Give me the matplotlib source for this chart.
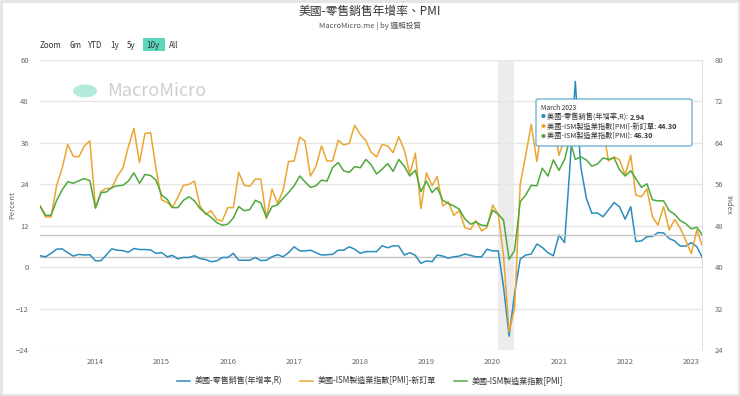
import pandas as pd
import matplotlib.pyplot as plt
from matplotlib.patches import Rectangle, Circle, FancyBboxPatch

plt.rcParams['font.family'] = ['Noto Sans CJK TC', 'DejaVu Sans']

# monthly, Mar 2013 - Mar 2023
months = pd.date_range('2013-03-01', periods=121, freq='MS')

retail_yoy = [
    3.3, 3.0, 4.0, 5.2, 5.3, 4.2, 3.2, 3.7, 3.5, 3.6,
    1.8, 1.9, 3.5, 5.3, 4.9, 4.8, 4.3, 5.4, 5.1, 5.1, 5.0, 4.0,
    4.2, 3.0, 3.4, 2.4, 2.8, 2.8, 3.3, 2.5, 2.2, 1.6, 1.8, 2.8,
    2.8, 4.0, 2.0, 2.0, 2.0, 2.8, 1.9, 2.0, 3.0, 3.6, 3.0, 4.2,
    5.9, 4.7, 4.7, 4.9, 4.2, 3.5, 3.6, 3.7, 4.9, 4.9, 5.9, 5.2,
    4.0, 4.5, 4.5, 4.5, 6.2, 5.6, 6.2, 6.1, 3.5, 4.2, 3.4, 1.1,
    1.8, 1.6, 3.5, 3.2, 2.6, 3.0, 3.2, 3.8, 3.4, 3.0, 3.0, 5.2,
    4.7, 4.7, -5.7, -20.0, -7.7, 2.3, 3.5, 3.8, 6.7, 5.7, 4.2, 3.3,
    9.3, 7.1, 28.0, 53.8, 29.1, 20.0, 15.6, 15.7, 14.6, 16.6, 18.7, 17.5,
    13.9, 17.5, 7.4, 7.6, 8.8, 8.9, 10.0, 9.9, 8.3, 7.6, 6.1, 6.1,
    7.1, 5.9, 2.94,
]

new_orders = [
    51.8, 49.7, 49.7, 55.8, 59.1, 63.7, 61.4, 61.3, 63.4, 64.4,
    51.4, 54.6, 55.2, 55.2, 57.5, 59.1, 63.2, 66.8, 60.2, 65.8, 66.0, 59.0,
    53.0, 52.5, 51.5, 53.5, 55.8, 56.0, 56.6, 51.8, 50.2, 50.9, 49.2, 48.9,
    51.5, 51.5, 58.3, 55.8, 55.6, 57.0, 57.0, 49.4, 55.1, 52.3, 54.8, 60.4,
    60.5, 65.1, 64.4, 57.6, 59.4, 63.4, 60.5, 60.5, 64.5, 63.6, 63.9, 67.4,
    65.6, 64.4, 62.2, 61.3, 63.7, 63.4, 62.1, 65.2, 62.6, 58.0, 62.0, 51.3,
    58.2, 55.7, 57.5, 51.8, 52.6, 50.0, 50.9, 47.6, 47.3, 49.0, 47.0, 47.7,
    52.0, 50.2, 42.2, 27.5, 32.0, 56.0, 61.5, 67.6, 60.4, 67.9, 65.1, 67.9,
    61.6, 64.8, 68.0, 64.3, 67.0, 66.0, 64.9, 66.7, 66.7, 60.5, 61.3, 60.7,
    57.8, 61.6, 53.9, 53.6, 55.1, 49.7, 48.1, 51.7, 47.2, 49.2, 47.5, 45.2,
    42.6, 47.2, 44.3,
]

pmi = [
    51.8, 50.0, 50.0, 52.9, 54.9, 56.5, 56.2, 56.7, 57.1, 56.7,
    51.4, 54.4, 54.5, 55.4, 55.7, 55.8, 56.6, 58.2, 56.2, 57.9, 57.7, 56.8,
    53.9, 53.1, 51.5, 51.5, 52.9, 53.6, 52.8, 51.3, 50.4, 49.6, 48.6, 48.1,
    48.3, 49.5, 51.7, 50.9, 51.1, 52.9, 52.4, 49.6, 51.7, 52.0, 53.3, 54.4,
    55.7, 57.6, 56.5, 55.4, 55.7, 56.8, 56.6, 59.2, 60.2, 58.6, 58.3, 59.4,
    59.2, 60.8, 59.8, 58.0, 58.9, 60.0, 58.5, 60.8, 59.5, 57.6, 58.7, 54.6,
    56.6, 54.4, 55.4, 52.9, 52.3, 51.8, 51.2, 49.3, 48.3, 48.7, 48.1, 48.0,
    51.0, 50.2, 49.1, 41.5, 43.2, 52.6, 53.9, 55.8, 55.7, 59.1, 57.6, 60.7,
    58.7, 60.8, 64.7, 60.8, 61.3, 60.7, 59.5, 59.9, 61.1, 60.8, 61.1, 58.8,
    57.6, 58.6, 57.1, 55.4, 56.1, 53.0, 52.8, 52.8, 50.9, 50.2, 49.0, 48.4,
    47.4, 47.7, 46.3,
]

year_ticks = [str(y) for y in range(2014, 2024)]
left_ticks = [-24, -12, 0, 12, 24, 36, 48, 60]
right_ticks = [24, 32, 40, 48, 56, 64, 72, 80]

names = ['美國-零售銷售(年增率,R)', '美國-ISM製造業指數[PMI]-新訂單', '美國-ISM製造業指數[PMI]']
colors = ['#2b8cbe', '#eba531', '#4fa83d']

W, H = 740, 396
fig = plt.figure(figsize=(W / 100, H / 100), dpi=100)
fig.patch.set_facecolor('white')
fig.patches.append(Rectangle((0.001, 0.002), 0.997, 0.995, transform=fig.transFigure,
                             fill=False, edgecolor='#e4e4e4', linewidth=2))

ax = fig.add_axes([40 / W, 1 - 350 / H, 662 / W, 290 / H])
ax2 = ax.twinx()

ax.axvspan(pd.Timestamp('2020-02-01'), pd.Timestamp('2020-04-30'), color='#ececec', zorder=0, lw=0)

ax.set_ylim(-24, 60)
ax2.set_ylim(24, 80)
ax.set_yticks(left_ticks)
ax2.set_yticks(right_ticks)
ax.grid(axis='y', color='#e6e6e6', linewidth=1)
ax.set_axisbelow(True)

# crosshair lines at latest values
ax.axhline(retail_yoy[-1], color='#c4c4c4', lw=1, zorder=1)
ax2.axhline(pmi[-1], color='#c4c4c4', lw=1, zorder=1)

l1, = ax.plot(months, retail_yoy, color=colors[0], lw=1.1, zorder=3)
l2, = ax2.plot(months, new_orders, color=colors[1], lw=1.1, zorder=3)
l3, = ax2.plot(months, pmi, color=colors[2], lw=1.1, zorder=4)

ax.set_xlim(months[0], months[-1])
ax.set_xticks([pd.Timestamp(y + '-01-01') for y in year_ticks])
ax.set_xticklabels(year_ticks)

for a in (ax, ax2):
    for s in a.spines.values():
        s.set_visible(False)
    a.tick_params(length=0, labelsize=5.5, labelcolor='#666666')
ax2.spines['right'].set_visible(True)
ax2.spines['right'].set_color('#e0e0e0')
ax.tick_params(axis='y', pad=8)
ax2.tick_params(axis='y', pad=9)
ax.tick_params(axis='x', pad=6)

ax.set_ylabel('Percent', fontsize=5.5, color='#666666', va='center')
ax.yaxis.set_label_coords(-28 / 662, 0.5)
ax2.set_ylabel('Index', fontsize=5.5, color='#666666', rotation=270, va='center')
ax2.yaxis.set_label_coords(1 + 26 / 662, 0.5)

# title area
fig.text(0.5, 1 - 11 / H, '美國-零售銷售年增率、PMI', ha='center', va='center', fontsize=8.5, color='#333333')
fig.text(0.5, 1 - 26 / H, 'MacroMicro.me | by 邏輯投資', ha='center', va='center', fontsize=5.5, color='#555555')

# range selector
fig.patches.append(Rectangle((143 / W, 1 - 51 / H), 22 / W, 13 / H, transform=fig.transFigure,
                             facecolor='#5cd6bd', edgecolor='none'))
for label, xp in [('Zoom', 40), ('6m', 69), ('YTD', 87), ('1y', 110), ('5y', 127), ('10y', 146), ('All', 169)]:
    fig.text(xp / W, 1 - 45 / H, label, ha='left', va='center', fontsize=5.8, color='#333333')

# watermark
fig.patches.append(Circle((85 / W, 1 - 91 / H), 12 / W, transform=fig.transFigure,
                          facecolor='#b2ebde', edgecolor='none', zorder=5))
fig.text(107 / W, 1 - 91 / H, 'MacroMicro', ha='left', va='center', fontsize=13, color='#cfcfcf')

# tooltip
fig.patches.append(FancyBboxPatch((536 / W, 1 - 146 / H), 156 / W, 47 / H, transform=fig.transFigure,
                                  boxstyle='round,pad=0,rounding_size=0.004', facecolor='white',
                                  edgecolor='#5aa9cc', linewidth=0.9, alpha=0.95, zorder=10))
fig.text(541 / W, 1 - 108 / H, 'March 2023', fontsize=4.8, color='#333333', va='center', zorder=11)
renderer = fig.canvas.get_renderer()
values = ['2.94', '44.30', '46.30']
for k, (nm, val) in enumerate(zip(names, values)):
    yy = 1 - (117 + 9.5 * k) / H
    fig.text(541 / W, yy, '●', fontsize=3.5, color=colors[k], va='center', zorder=11)
    t = fig.text(547 / W, yy, nm + ': ', fontsize=5.2, color='#333333', va='center', zorder=11)
    bb = t.get_window_extent(renderer)
    fig.text(bb.x1 / W, yy, val, fontsize=5.2, color='#333333', weight='bold', va='center', zorder=11)

leg = fig.legend([l1, l2, l3], names, loc='center', bbox_to_anchor=(0.5, 1 - 381 / H), ncol=3,
                 frameon=False, fontsize=5.8, handlelength=1.6, columnspacing=2.2, handletextpad=0.6)
for t in leg.get_texts():
    t.set_color('#333333')

fig.savefig('out.png', dpi=100)
